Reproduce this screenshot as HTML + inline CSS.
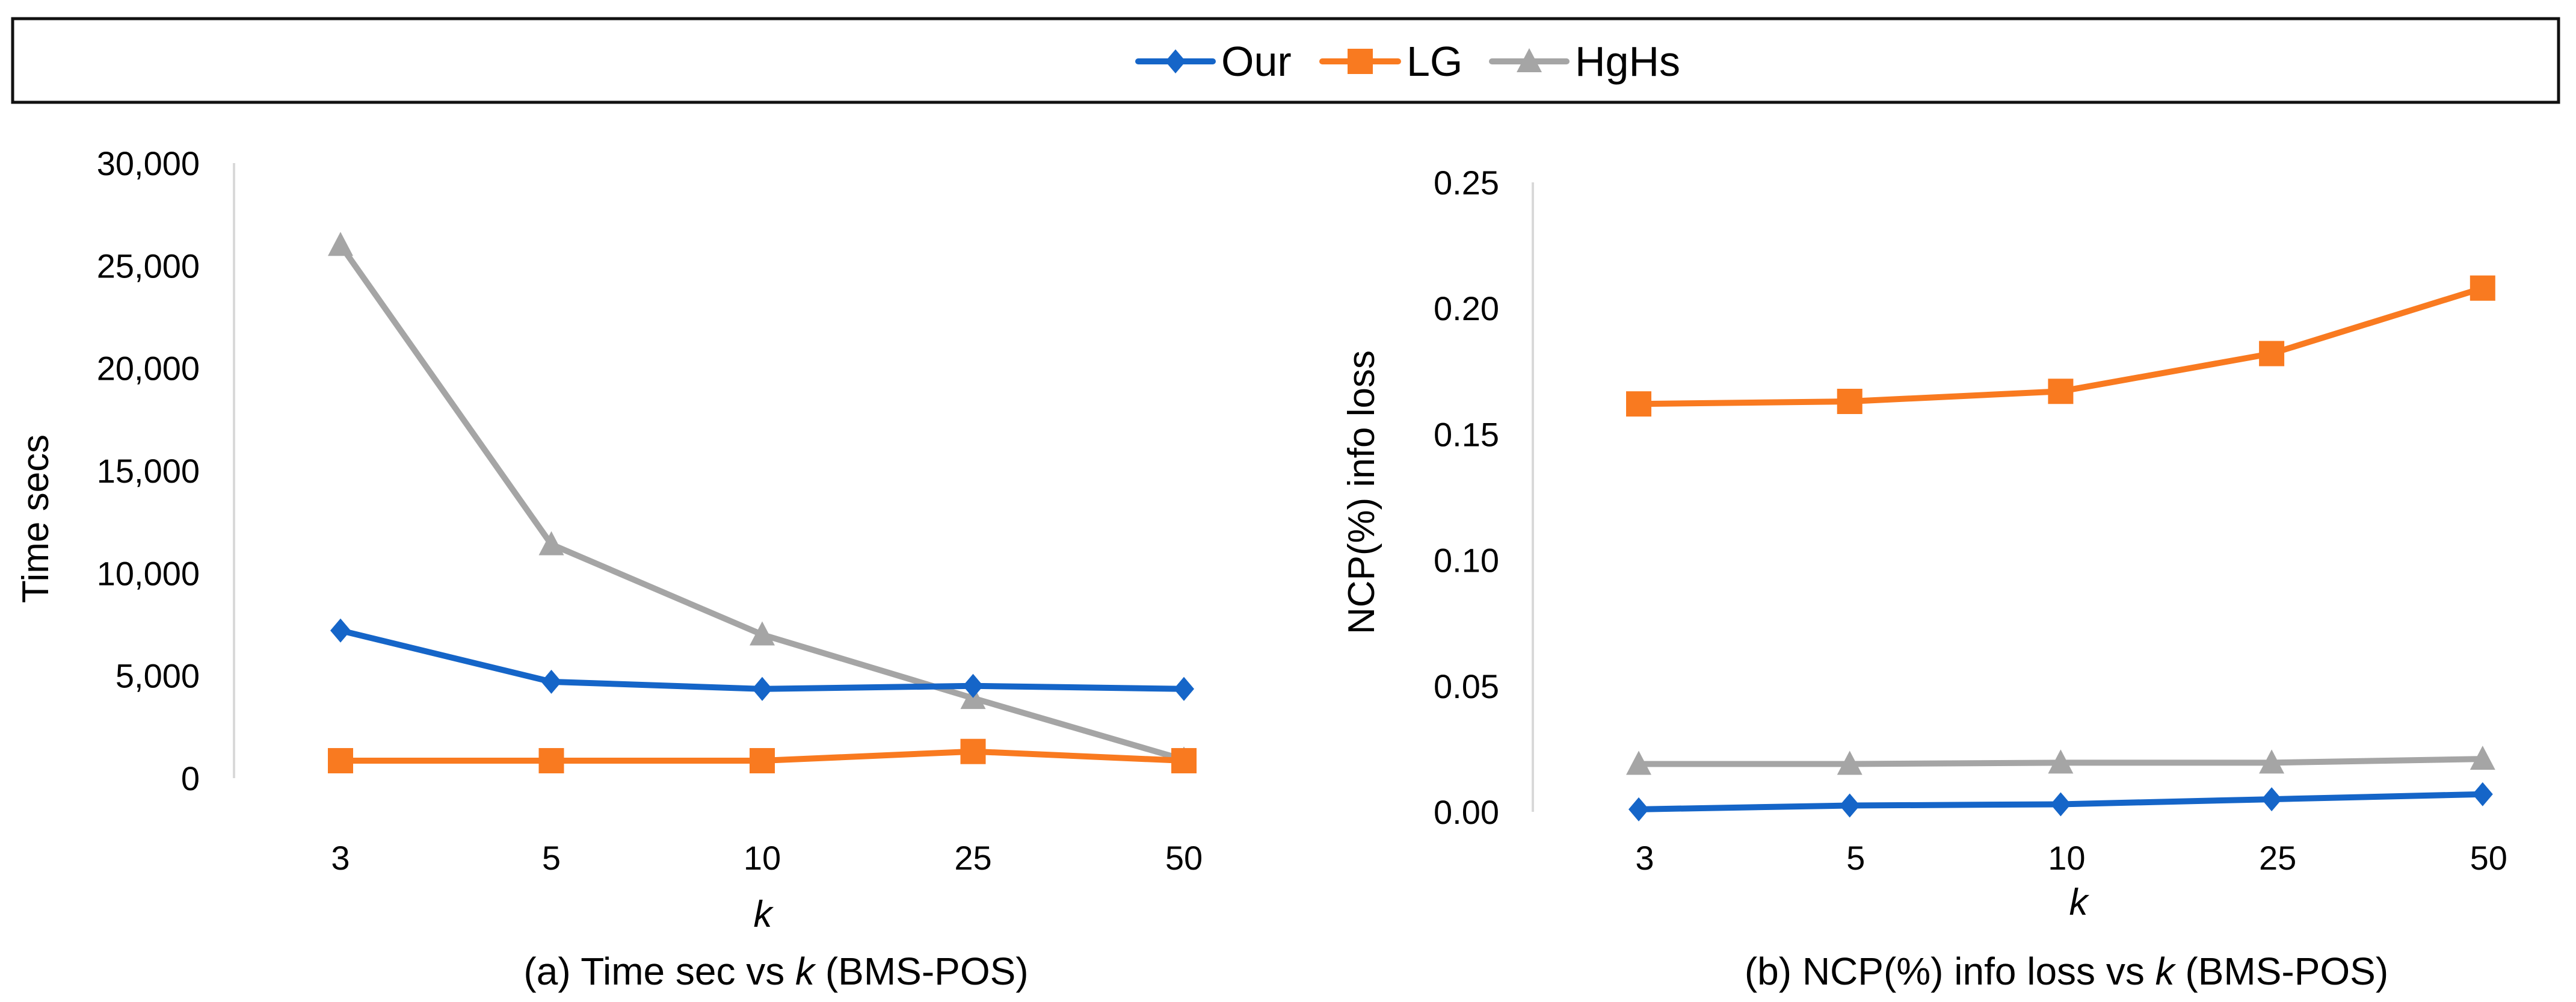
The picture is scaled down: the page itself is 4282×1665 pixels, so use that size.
<!DOCTYPE html>
<html><head><meta charset="utf-8"><style>
html,body{margin:0;padding:0;background:#fff}
svg{display:block}
text{font-family:"Liberation Sans","Noto Sans CJK KR",sans-serif;fill:#000}
</style></head><body>
<svg id="svg" width="4282" height="1665" viewBox="0 0 4282 1665" xmlns="http://www.w3.org/2000/svg">
<rect x="21" y="31" width="4232" height="139" fill="#fff" stroke="#111" stroke-width="5"/>
<g>
<line x1="1892" y1="102" x2="2016" y2="102" stroke="#1565C8" stroke-width="10" stroke-linecap="round"/>
<polygon points="1954,82 1971,102 1954,122 1937,102" fill="#1565C8"/>
<text x="2030" y="126" font-size="70">Our</text></g>
<g>
<line x1="2198" y1="102" x2="2324" y2="102" stroke="#F97A20" stroke-width="10" stroke-linecap="round"/>
<rect x="2240" y="81" width="42" height="42" fill="#F97A20"/>
<text x="2338" y="126" font-size="70">LG</text></g>
<g>
<line x1="2480" y1="102" x2="2604" y2="102" stroke="#A5A5A5" stroke-width="10" stroke-linecap="round"/>
<polygon points="2542,80 2563,120 2521,120" fill="#A5A5A5"/>
<text x="2618" y="126" font-size="70">HgHs</text></g>
<g id="chartA"></g>
<g id="chartB"></g>
</svg>
<script>
const categories = ["3","5","10","25","50"];
const timeOur = [7200, 4700, 4350, 4500, 4350];
const timeLG = [850, 850, 850, 1300, 850];
const timeHgHs = [26000, 11400, 7000, 3900, 900];
const timeTicks = ["0","5,000","10,000","15,000","20,000","25,000","30,000"];
const ncpOur = [0.001, 0.0025, 0.003, 0.005, 0.007];
const ncpLG = [0.162, 0.163, 0.167, 0.182, 0.208];
const ncpHgHs = [0.019, 0.019, 0.0195, 0.0195, 0.021];
const ncpTicks = ["0.00","0.05","0.10","0.15","0.20","0.25"];

const NS = "http://www.w3.org/2000/svg";
function mk(parent, tag, attrs, txt){
  const e = document.createElementNS(NS, tag);
  for (const k in attrs) e.setAttribute(k, attrs[k]);
  if (txt !== undefined) e.textContent = txt;
  parent.appendChild(e); return e;
}
const COL = {our:"#1565C8", lg:"#F97A20", hg:"#A5A5A5"};

function drawChart(g, cfg){
  const xScale = i => cfg.x0 + i*cfg.dx;
  const yScale = v => cfg.yBot - (v - 0)/(cfg.yMax) * (cfg.yBot - cfg.yTop);
  const axis = mk(g, "line", {x1:cfg.axisX, y1:cfg.yTop, x2:cfg.axisX, y2:cfg.yBot, stroke:"#d9d9d9", "stroke-width":4});
  
  
  cfg.ticks.forEach((t, i) => {
    const v = cfg.yMax * i/(cfg.ticks.length-1);
    const el = mk(g, "text", {x:cfg.tickRight, y:yScale(v)+20, "font-size":56, "text-anchor":"end"}, t);
    
    
  });
  categories.forEach((c, i) => {
    const el = mk(g, "text", {x:xScale(i)+cfg.labOff, y:1445, "font-size":56, "text-anchor":"middle"}, c);
    
    
  });
  const xt = mk(g, "text", {x:cfg.kx, y:cfg.ky, "font-size":62, "font-style":"italic", "text-anchor":"middle"}, "k");
  
  
  const yt = mk(g, "text", {x:0, y:0, "font-size":62, "text-anchor":"middle", transform:`translate(${cfg.ytx},${cfg.yty}) rotate(-90)`}, cfg.ytitle);
  
  
  const cap = mk(g, "text", {x:cfg.capx, y:1636, "font-size":64, "text-anchor":"middle"});
  
  
  mk(cap, "tspan", {}, cfg.cap1 + " ");
  mk(cap, "tspan", {"font-style":"italic"}, "k");
  mk(cap, "tspan", {}, " (BMS-POS)");

  const series = [["hghs", cfg.hg, COL.hg, "tri"], ["lg", cfg.lg, COL.lg, "sq"], ["our", cfg.our, COL.our, "dia"]];
  series.forEach(([name, vals, col, shape]) => {
    const pts = vals.map((v, i) => xScale(i) + "," + yScale(v)).join(" ");
    const pl = mk(g, "polyline", {points:pts, fill:"none", stroke:col, "stroke-width":10, "stroke-linejoin":"round"});
    
    
    vals.forEach((v, i) => {
      const x = xScale(i), y = yScale(v);
      let m;
      if (shape === "sq") m = mk(g, "rect", {x:x-21, y:y-21, width:42, height:42, fill:col});
      else if (shape === "dia") m = mk(g, "polygon", {points:`${x},${y-20} ${x+17},${y} ${x},${y+20} ${x-17},${y}`, fill:col});
      else m = mk(g, "polygon", {points:`${x},${y-22} ${x+21},${y+18} ${x-21},${y+18}`, fill:col});
      
      
    });
  });
}

drawChart(document.getElementById("chartA"), {
  x0:566, dx:350.5, yTop:271, yBot:1293, yMax:30000, axisX:389, tickRight:332,
  ticks:timeTicks, our:timeOur, lg:timeLG, hg:timeHgHs, labOff:0,
  kx:1268, ky:1540, ytx:80, yty:862, ytitle:"Time secs", capx:1290, cap1:"(a) Time sec vs"
});
drawChart(document.getElementById("chartB"), {
  x0:2724, dx:350.7, yTop:303, yBot:1349, yMax:0.25, axisX:2548, tickRight:2492,
  ticks:ncpTicks, our:ncpOur, lg:ncpLG, hg:ncpHgHs, labOff:10,
  kx:3455, ky:1520, ytx:2284, yty:818, ytitle:"NCP(%) info loss", capx:3435, cap1:"(b) NCP(%) info loss vs"
});
</script>
</body></html>
